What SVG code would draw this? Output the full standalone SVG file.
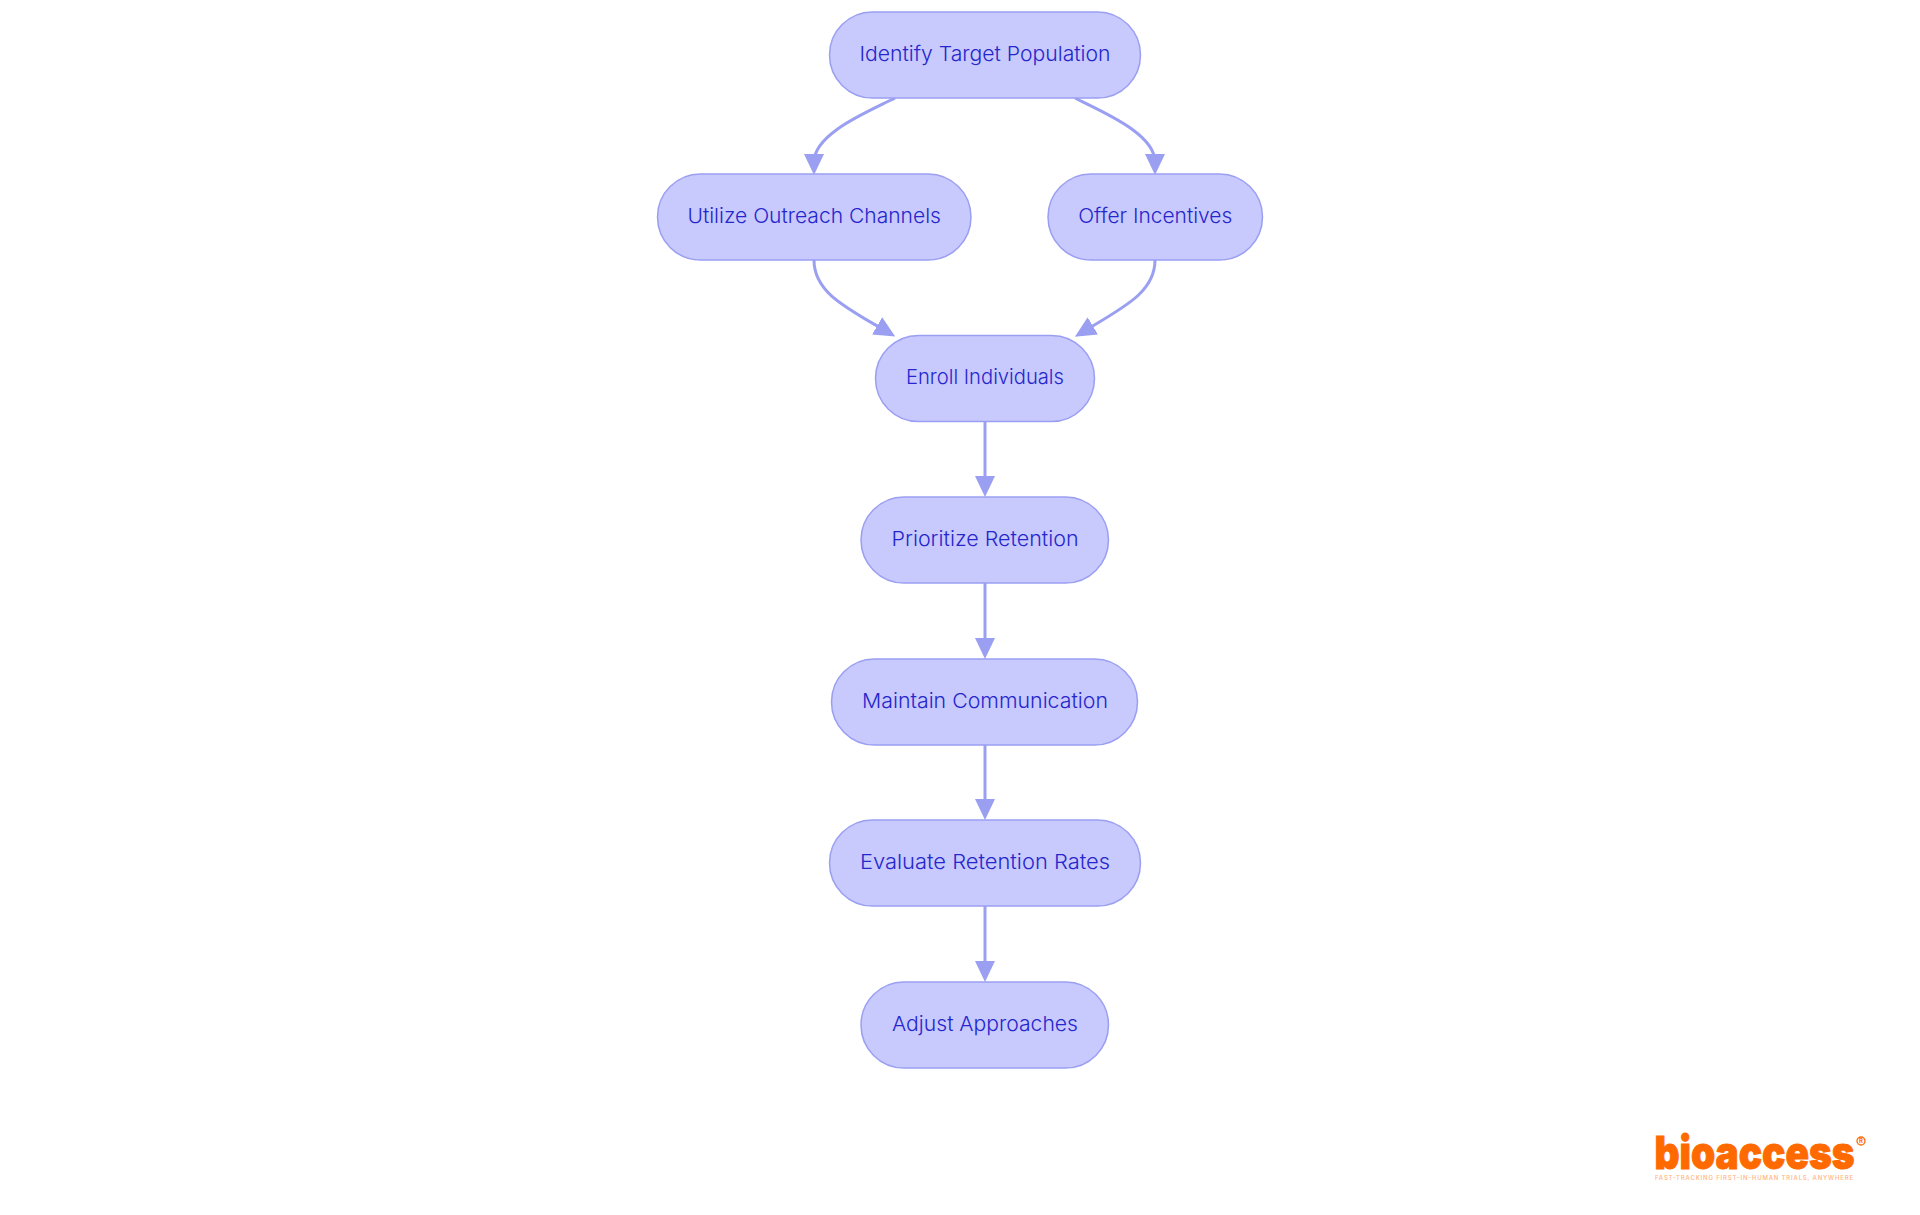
<svg xmlns="http://www.w3.org/2000/svg" width="1920" height="1215" viewBox="0 0 1920 1215">
<style>
.n rect{fill:#c8c9fd;stroke:#9a9ff2;stroke-width:1.5}
.n text{font-family:"Inter","Noto Sans",sans-serif;font-size:20.5px;font-weight:300;fill:#2526cc;text-anchor:middle}
.e{fill:none;stroke:#9a9ff2;stroke-width:3}
.logo{font-family:"Inter","Liberation Sans",sans-serif;fill:#ff6a00}
</style>
<defs><marker id="a" markerUnits="userSpaceOnUse" markerWidth="21" markerHeight="21" viewBox="0 0 21 21" refX="8" refY="10.500" orient="auto"><path d="M0,0.500 L21,10.500 L0,20.500 Z" fill="#9a9ff2"/></marker></defs>
<rect width="1920" height="1215" fill="#fff"/>
<g id="connectors">
<path class="e" marker-end="url(#a)" d="M895,98 C870,111 814,133 814,162"/>
<path class="e" marker-end="url(#a)" d="M1075,98 C1100,111 1155,133 1155,162"/>
<path class="e" marker-end="url(#a)" d="M814,260 C814,292 845,307 884,330"/>
<path class="e" marker-end="url(#a)" d="M1155,260 C1155,292 1124,307 1086,330"/>
<path class="e" marker-end="url(#a)" d="M985,421 V484"/>
<path class="e" marker-end="url(#a)" d="M985,583 V646"/>
<path class="e" marker-end="url(#a)" d="M985,745 V807"/>
<path class="e" marker-end="url(#a)" d="M985,906 V969"/>
</g>
<g id="n1" class="n"><rect x="829.5" y="12" width="311" height="86" rx="43"/><text x="985" y="60.500" textLength="251" lengthAdjust="spacingAndGlyphs">Identify Target Population</text></g>
<g id="n2" class="n"><rect x="657.5" y="174" width="313.5" height="86" rx="43"/><text x="814.2" y="222.500" textLength="253.5" lengthAdjust="spacingAndGlyphs">Utilize Outreach Channels</text></g>
<g id="n3" class="n"><rect x="1048" y="174" width="214.5" height="86" rx="43"/><text x="1155.2" y="222.500" textLength="154" lengthAdjust="spacingAndGlyphs">Offer Incentives</text></g>
<g id="n4" class="n"><rect x="875.5" y="335.5" width="219" height="86" rx="43"/><text x="985" y="383.500" textLength="158" lengthAdjust="spacingAndGlyphs">Enroll Individuals</text></g>
<g id="n5" class="n"><rect x="861" y="497" width="247.500" height="86" rx="43"/><text x="985" y="545.500" textLength="187" lengthAdjust="spacingAndGlyphs">Prioritize Retention</text></g>
<g id="n6" class="n"><rect x="831.500" y="659" width="306" height="86" rx="43"/><text x="985" y="707.500" textLength="246" lengthAdjust="spacingAndGlyphs">Maintain Communication</text></g>
<g id="n7" class="n"><rect x="829.5" y="820" width="311" height="86" rx="43"/><text x="985" y="868.500" textLength="250" lengthAdjust="spacingAndGlyphs">Evaluate Retention Rates</text></g>
<g id="n8" class="n"><rect x="861" y="982" width="247.500" height="86" rx="43"/><text x="985" y="1030.500" textLength="186" lengthAdjust="spacingAndGlyphs">Adjust Approaches</text></g>
<g id="logo">
<text class="logo" x="1654.500" y="1169" font-size="46" font-weight="900" stroke="#ff6a00" stroke-width="1" textLength="200" lengthAdjust="spacingAndGlyphs">bioaccess</text>
<circle cx="1861" cy="1141" r="4" fill="none" stroke="#ff6a00" stroke-width="1.3"/>
<text class="logo" x="1861" y="1143" font-size="6" font-weight="700" text-anchor="middle">R</text>
<text class="logo" x="1655" y="1180" font-size="6" font-weight="500" textLength="198" style="fill:#ffb380">FAST-TRACKING FIRST-IN-HUMAN TRIALS, ANYWHERE</text>
</g>
</svg>
